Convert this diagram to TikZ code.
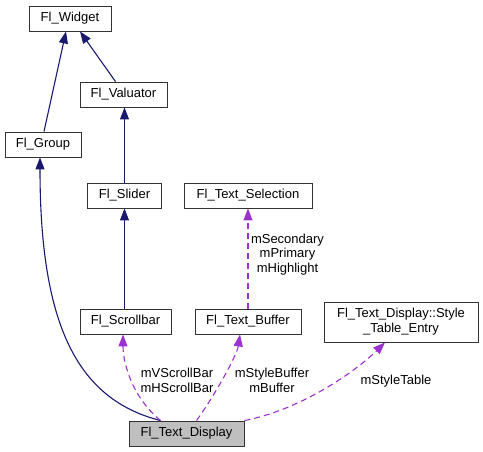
\documentclass[tikz,border=0pt]{standalone}
\usepackage{fontspec}
\setmainfont{Liberation Sans}
\usetikzlibrary{arrows.meta}

\definecolor{navyedge}{RGB}{25,25,112}
\definecolor{orchidedge}{RGB}{154,50,205}
\definecolor{curgray}{RGB}{191,191,191}

\begin{document}
\begin{tikzpicture}[x=1pt,y=-1pt,
  box/.style={draw=black!80, line width=0.9pt, minimum height=25pt, inner sep=2pt, font=\fontsize{13}{15}\selectfont},
  inherit/.style={draw=navyedge, line width=1.1pt, -{Triangle[length=12pt,width=9pt]}},
  usage/.style={draw=orchidedge, line width=1.1pt, dash pattern=on 6pt off 4pt, -{Triangle[length=12pt,width=9pt]}},
  lbl/.style={align=center, inner sep=0pt, font=\fontsize{13}{14.5}\selectfont}]

\useasboundingbox (0,0) rectangle (483,452);

% classes
\node[box, minimum width=82pt] (widget) at (70,18.5) {Fl\_Widget};
\node[box, minimum width=87pt] (valuator) at (123.5,94.5) {Fl\_Valuator};
\node[box, minimum width=76pt] (group) at (43,144.5) {Fl\_Group};
\node[box, minimum width=74pt] (slider) at (124.5,195.5) {Fl\_Slider};
\node[box, minimum width=128pt] (selection) at (248,195.5) {Fl\_Text\_Selection};
\node[box, minimum width=91pt] (scrollbar) at (125.5,321.5) {Fl\_Scrollbar};
\node[box, minimum width=106pt] (buffer) at (248,321.5) {Fl\_Text\_Buffer};
\node[box, minimum width=154pt, minimum height=40pt, align=center] (style) at (401,322) {Fl\_Text\_Display::Style\\\_Table\_Entry};
\node[box, minimum width=115pt, fill=curgray] (display) at (186.5,433.5) {Fl\_Text\_Display};

% inheritance
\draw[inherit] ([xshift=1pt]group.north) -- ([xshift=-4pt]widget.south);
\draw[inherit] ([xshift=-8pt]valuator.north) -- ([xshift=10pt]widget.south);
\draw[inherit] (slider.north) -- (slider.north |- valuator.south);
\draw[inherit] (scrollbar.north -| slider.south) -- (slider.south);
\draw[inherit] ([xshift=-26pt]display.north) .. controls (80,400) and (40,330) .. ([xshift=-3pt]group.south);

% members
\draw[usage] ([xshift=-26pt]display.north) .. controls (130,395) and (123,360) .. ([xshift=-2.5pt]scrollbar.south);
\draw[usage] ([xshift=10pt]display.north) .. controls (215,395) and (237,355) .. ([xshift=-8pt]buffer.south);
\draw[usage] (display.north east) .. controls (300,410) and (355,372) .. ([xshift=-16pt]style.south);
\draw[usage] (buffer.north) -- (selection.south);

% labels
\node[lbl] (lscroll) at (177,380.5) {mVScrollBar\\mHScrollBar};
\node[lbl] (lbuffer) at (272,380.5) {mStyleBuffer\\mBuffer};
\node[lbl] (ltable) at (396,381) {mStyleTable};
\node[lbl] (lselect) at (287.5,254.5) {mSecondary\\mPrimary\\mHighlight};

\end{tikzpicture}
\end{document}
